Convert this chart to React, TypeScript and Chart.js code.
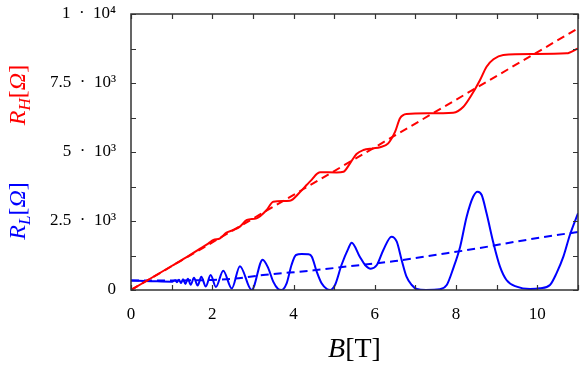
import React, { useEffect, useRef } from 'react';
import { Chart, registerables } from 'chart.js';

Chart.register(...registerables);

const W = 581;
const H = 367;

// Axis definitions
const xMin = 0;
const xMax = 11;
const yMin = 0;
const yMax = 10000;
const xTickValues = [0, 1, 2, 3, 4, 5, 6, 7, 8, 9, 10, 11];
const xTickLabels: Record<number, string> = { 0: '0', 2: '2', 4: '4', 6: '6', 8: '8', 10: '10' };
const yTickValues = [0, 1250, 2500, 3750, 5000, 6250, 7500, 8750, 10000];
const yTickLabels: Record<number, string> = {
  0: '0',
  2500: '2.5\u2002·\u200210³',
  5000: '5\u2002·\u200210³',
  7500: '7.5\u2002·\u200210³',
  10000: '1\u2002·\u200210⁴',
};

// Hall resistance R_H (solid) [B, R]
const hallSolid: [number, number][] = [
  [0, 0], [0.5, 435], [1.0, 870], [1.4, 1220], [1.7, 1500], [1.9, 1680], [2.03, 1812],
  [2.19, 1873], [2.35, 2077], [2.52, 2174], [2.68, 2295], [2.85, 2536], [3.09, 2597],
  [3.34, 2899], [3.5, 3200], [3.91, 3236], [4.16, 3550], [4.32, 3804], [4.45, 4000],
  [4.57, 4200], [4.65, 4264], [5.06, 4260], [5.23, 4286], [5.39, 4589], [5.55, 4928],
  [5.72, 5072], [5.95, 5130], [6.13, 5170], [6.33, 5314], [6.5, 5736], [6.62, 6220],
  [6.78, 6377], [7.3, 6400], [7.93, 6425], [8.18, 6641], [8.38, 7065], [8.59, 7609],
  [8.75, 8090], [8.92, 8358], [9.16, 8514], [9.9, 8551], [10.72, 8575], [11.0, 8757],
];

// Classical Hall line (dashed)
const hallClassical: [number, number][] = [[0, 0], [11, 9480]];

// Longitudinal resistance R_L (solid)
const longSolid: [number, number][] = [
  [0, 345], [0.5, 320], [1.0, 300], [1.05, 330], [1.09, 350], [1.13, 280], [1.18, 370],
  [1.23, 250], [1.28, 390], [1.34, 220], [1.4, 410], [1.47, 190], [1.55, 440], [1.64, 160],
  [1.73, 480], [1.84, 130], [1.96, 543], [2.09, 110], [2.27, 700], [2.48, 55], [2.68, 865],
  [2.97, 0], [3.24, 1100], [3.38, 785], [3.5, 302], [3.62, 36], [3.7, 0], [3.83, 242],
  [3.95, 906], [4.06, 1268], [4.2, 1300], [4.36, 1292], [4.45, 1207], [4.57, 664],
  [4.69, 242], [4.82, 36], [4.9, 0], [5.02, 181], [5.18, 906], [5.35, 1510], [5.43, 1715],
  [5.63, 1207], [5.76, 906], [5.9, 773], [6.05, 906], [6.21, 1449], [6.41, 1932],
  [6.54, 1750], [6.66, 1087], [6.78, 482], [6.91, 181], [7.03, 36], [7.26, 0], [7.6, 24],
  [7.77, 181], [7.93, 785], [8.1, 1570], [8.26, 2657], [8.42, 3380], [8.53, 3562],
  [8.63, 3442], [8.75, 2778], [8.92, 1690], [9.08, 845], [9.24, 362], [9.49, 120],
  [9.82, 36], [10.06, 60], [10.31, 181], [10.47, 604], [10.64, 1207], [10.8, 1993], [11.0, 2779],
];

// Classical longitudinal resistance (dashed)
const longClassical: [number, number][] = [
  [0, 340], [1, 345], [2, 365], [2.5, 405], [3.25, 540], [4.5, 713], [5.4, 865],
  [6.5, 1050], [7.6, 1293], [8.5, 1500], [9.5, 1760], [10.88, 2077], [11, 2100],
];

const RED = '#ff0000';
const BLUE = '#0000ff';
const SERIF = '"Liberation Serif", "DejaVu Serif", serif';

type Part = { t: string; font: string; dy?: number };

function drawRich(ctx: CanvasRenderingContext2D, parts: Part[], color: string) {
  let total = 0;
  for (const p of parts) {
    ctx.font = p.font;
    total += ctx.measureText(p.t).width;
  }
  let cx = -total / 2;
  ctx.fillStyle = color;
  ctx.textBaseline = 'alphabetic';
  ctx.textAlign = 'left';
  for (const p of parts) {
    ctx.font = p.font;
    ctx.fillText(p.t, cx, p.dy || 0);
    cx += ctx.measureText(p.t).width;
  }
}

const framePlugin = {
  id: 'frameAndTitles',
  afterDraw(chart: any) {
    const { ctx, chartArea: a, scales } = chart;
    const xs = scales.x;
    const ys = scales.y;
    ctx.save();
    ctx.strokeStyle = '#333333';
    ctx.lineWidth = 1.2;
    const tl = 5;
    ctx.beginPath();
    for (const b of xTickValues) {
      const px = Math.round(xs.getPixelForValue(b)) + 0.5;
      ctx.moveTo(px, a.bottom);
      ctx.lineTo(px, a.bottom - tl);
      ctx.moveTo(px, a.top);
      ctx.lineTo(px, a.top + tl);
    }
    for (const v of yTickValues) {
      const py = Math.round(ys.getPixelForValue(v)) + 0.5;
      ctx.moveTo(a.left, py);
      ctx.lineTo(a.left + tl, py);
      ctx.moveTo(a.right, py);
      ctx.lineTo(a.right - tl, py);
    }
    ctx.stroke();
    ctx.lineWidth = 1.5;
    ctx.strokeRect(a.left, a.top, a.right - a.left, a.bottom - a.top);

    // x-axis title B[T]
    ctx.save();
    ctx.translate((a.left + a.right) / 2, 357);
    drawRich(ctx, [
      { t: 'B', font: `italic 28px ${SERIF}` },
      { t: '[T]', font: `28px ${SERIF}` },
    ], '#000000');
    ctx.restore();

    // y-axis titles
    ctx.save();
    ctx.translate(25, 95);
    ctx.rotate(-Math.PI / 2);
    drawRich(ctx, [
      { t: 'R', font: `italic 24px ${SERIF}` },
      { t: 'H', font: `italic 17px ${SERIF}`, dy: 5 },
      { t: '[', font: `24px ${SERIF}` },
      { t: 'Ω', font: `italic 24px ${SERIF}` },
      { t: ']', font: `24px ${SERIF}` },
    ], RED);
    ctx.restore();

    ctx.save();
    ctx.translate(25, 211);
    ctx.rotate(-Math.PI / 2);
    drawRich(ctx, [
      { t: 'R', font: `italic 24px ${SERIF}` },
      { t: 'L', font: `italic 17px ${SERIF}`, dy: 5 },
      { t: '[', font: `24px ${SERIF}` },
      { t: 'Ω', font: `italic 24px ${SERIF}` },
      { t: ']', font: `24px ${SERIF}` },
    ], BLUE);
    ctx.restore();

    ctx.restore();
  },
};

const toXY = (arr: [number, number][]) => arr.map(([x, y]) => ({ x, y }));

export default function App() {
  const ref = useRef<HTMLCanvasElement>(null);
  useEffect(() => {
    document.body.style.margin = '0';
    const canvas = ref.current;
    if (!canvas) return;
    const chart = new Chart(canvas, {
      type: 'line',
      data: {
        datasets: [
          {
            label: 'R_H',
            data: toXY(hallSolid),
            borderColor: RED,
            borderWidth: 2,
            pointRadius: 0,
            cubicInterpolationMode: 'monotone',
            fill: false,
          },
          {
            label: 'R_H classical',
            data: toXY(hallClassical),
            borderColor: RED,
            borderWidth: 2,
            borderDash: [8, 5],
            pointRadius: 0,
            fill: false,
          },
          {
            label: 'R_L',
            data: toXY(longSolid),
            borderColor: BLUE,
            borderWidth: 2,
            pointRadius: 0,
            cubicInterpolationMode: 'monotone',
            fill: false,
          },
          {
            label: 'R_L classical',
            data: toXY(longClassical),
            borderColor: BLUE,
            borderWidth: 2,
            borderDash: [8, 5],
            pointRadius: 0,
            cubicInterpolationMode: 'monotone',
            fill: false,
          },
        ],
      } as any,
      options: {
        animation: false,
        responsive: false,
        devicePixelRatio: 1,
        layout: { padding: { left: 0, right: 3, top: 14, bottom: 0 } },
        plugins: {
          legend: { display: false },
          tooltip: { enabled: false },
          title: { display: false },
        },
        scales: {
          x: {
            type: 'linear',
            min: xMin,
            max: xMax,
            afterFit: (s: any) => {
              s.height = 77;
              s.paddingLeft = 0;
              s.paddingRight = 0;
            },
            afterBuildTicks: (s: any) => { s.ticks = xTickValues.map((v) => ({ value: v })); },
            grid: { display: false, drawTicks: false },
            border: { display: false },
            ticks: {
              autoSkip: false,
              maxRotation: 0,
              padding: 14,
              color: '#000000',
              font: { family: SERIF, size: 17 },
              callback: (v: any) => xTickLabels[Number(v)] ?? '',
            },
          },
          y: {
            type: 'linear',
            min: yMin,
            max: yMax,
            afterFit: (s: any) => {
              s.width = 131;
              s.paddingTop = 0;
              s.paddingBottom = 0;
            },
            afterBuildTicks: (s: any) => { s.ticks = yTickValues.map((v) => ({ value: v })); },
            grid: { display: false, drawTicks: false },
            border: { display: false },
            ticks: {
              autoSkip: false,
              padding: 15,
              color: '#000000',
              font: { family: SERIF, size: 17 },
              callback: (v: any) => yTickLabels[Number(v)] ?? '',
            },
          },
        },
      } as any,
      plugins: [framePlugin],
    });
    return () => chart.destroy();
  }, []);
  return (
    <div style={{ width: W, height: H }}>
      <canvas ref={ref} width={W} height={H} style={{ display: 'block', width: W, height: H }} />
    </div>
  );
}
